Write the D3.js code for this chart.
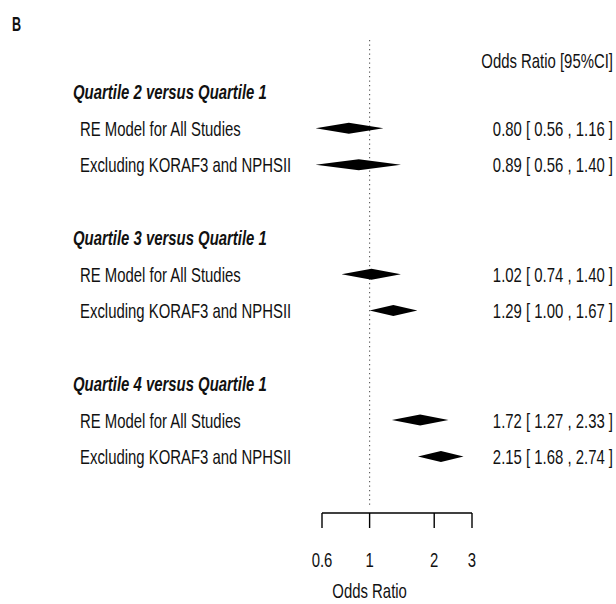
<!DOCTYPE html>
<html>
<head>
    <title>Forest plot B</title>
    <script src="https://d3js.org/d3.v7.min.js"></script>
    <style>
        html, body {
            margin: 0;
            background: #fff;
            overflow: hidden;
        }
        text {
            font-family: "Liberation Sans", Arial, Helvetica, sans-serif;
            fill: #111;
        }
    </style>
</head>
<body>
    <div id="chart"></div>

    <script>
        // Data
        const groups = ["Quartile 2 versus Quartile 1", "Quartile 3 versus Quartile 1", "Quartile 4 versus Quartile 1"];
        const models = ["RE Model for All Studies", "Excluding KORAF3 and NPHSII"];
        const estimate = [0.80, 0.89, 1.02, 1.29, 1.72, 2.15];
        const lower = [0.56, 0.56, 0.74, 1.00, 1.27, 1.68];
        const upper = [1.16, 1.40, 1.40, 1.67, 2.33, 2.74];
        const tickValues = [0.6, 1, 2, 3];

        const width = 616, height = 604;
        const squeeze = 0.71; // tall, narrow look of the R device font
        const fontSize = 21;
        const half = 7.5;     // half cap height, to centre text on a row

        const svg = d3.select("#chart")
            .append("svg")
            .attr("width", width)
            .attr("height", height);

        // log axis, rows counted from the bottom like metafor's forest()
        const x = d3.scaleLog().domain([0.6, 3]).range([322, 472]);
        const y = d3.scaleLinear().domain([-0.55, 12.42]).range([513, 40]);

        // build row list: group header, then two models, blank row between groups
        const rows = [];
        let r = 11;
        groups.forEach((g, gi) => {
            rows.push({type: "group", label: g, row: r});
            r -= 1;
            models.forEach((m, mi) => {
                const i = gi * 2 + mi;
                rows.push({type: "model", label: m, row: r,
                    est: estimate[i], lo: lower[i], hi: upper[i]});
                r -= 1;
            });
            r -= 1;
        });

        function label(sel, txt, px, py, opts) {
            opts = opts || {};
            return sel.append("text")
                .attr("transform", `translate(${px},${py}) scale(${opts.squeeze || squeeze},1)`)
                .attr("text-anchor", opts.anchor || "start")
                .style("font-size", (opts.size || fontSize) + "px")
                .style("font-weight", opts.weight || "normal")
                .style("font-style", opts.style || "normal")
                .text(txt);
        }

        // panel letter
        label(svg, "B", 12, 31, {size: 21, weight: "bold", squeeze: 0.6});

        // reference line at OR = 1
        svg.append("line")
            .attr("x1", x(1)).attr("x2", x(1))
            .attr("y1", y(12.42)).attr("y2", y(-0.4))
            .attr("stroke", "#555")
            .attr("stroke-width", 1.1)
            .attr("stroke-dasharray", "1.2,3.3");

        // column header
        label(svg, "Odds Ratio [95%CI]", 613, y(11.85) + half, {anchor: "end"});

        const fmt = d3.format(".2f");

        rows.forEach(d => {
            const cy = y(d.row);
            if (d.type === "group") {
                label(svg, d.label, 73, cy + half, {weight: "bold", style: "italic"});
                return;
            }
            label(svg, d.label, 80, cy + half);
            label(svg, `${fmt(d.est)} [ ${fmt(d.lo)} , ${fmt(d.hi)} ]`, 613, cy + half, {anchor: "end"});

            const h = 5.5;
            svg.append("path")
                .attr("d", `M${x(d.lo)},${cy} L${x(d.est)},${cy - h} L${x(d.hi)},${cy} L${x(d.est)},${cy + h} Z`)
                .attr("fill", "#000");
        });

        // x axis
        const axis = svg.append("g")
            .attr("transform", `translate(0,${y(-0.55)})`);

        axis.append("line")
            .attr("x1", x(tickValues[0]))
            .attr("x2", x(tickValues[tickValues.length - 1]))
            .attr("stroke", "#000")
            .attr("stroke-width", 1.4);

        axis.selectAll(".tick")
            .data(tickValues)
            .join("line")
            .attr("x1", d => x(d)).attr("x2", d => x(d))
            .attr("y1", 0).attr("y2", 15)
            .attr("stroke", "#000")
            .attr("stroke-width", 1.4);

        tickValues.forEach(t => {
            label(axis, String(t), x(t), 54, {anchor: "middle"});
        });

        label(svg, "Odds Ratio", x(1), 598, {anchor: "middle"});
    </script>
</body>
</html>
